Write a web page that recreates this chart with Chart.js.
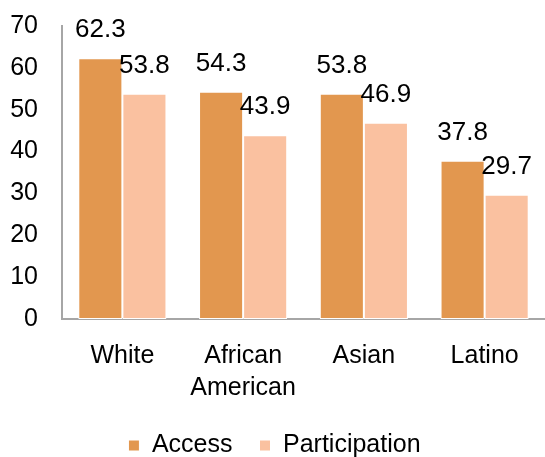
<!DOCTYPE html>
<html>
<head>
<meta charset="utf-8">
<script src="https://cdn.jsdelivr.net/npm/chart.js@4.4.0/dist/chart.umd.min.js"></script>
<style>
  body { margin: 0; background: #fff; }
  canvas { display: block; }
</style>
</head>
<body>
<canvas id="chart" width="545" height="457"></canvas>
<script>
const categories = [['White'], ['African', 'American'], ['Asian'], ['Latino']];
const access = [62.3, 54.3, 53.8, 37.8];
const participation = [53.8, 43.9, 46.9, 29.7];
const yTicks = [0, 10, 20, 30, 40, 50, 60, 70];

const FONT = 'Liberation Sans, Arial, sans-serif';

// value labels above every bar
const valueLabels = {
    id: 'valueLabels',
    afterDatasetsDraw(chart) {
        const ctx = chart.ctx;
        ctx.save();
        ctx.font = '26px ' + FONT;
        ctx.fillStyle = '#000';
        ctx.textAlign = 'center';
        ctx.textBaseline = 'alphabetic';
        chart.data.datasets.forEach((ds, i) => {
            chart.getDatasetMeta(i).data.forEach((bar, j) => {
                ctx.fillText(ds.data[j].toFixed(1), bar.x, bar.y - 21);
            });
        });
        ctx.restore();
    }
};

new Chart(document.getElementById('chart').getContext('2d'), {
    type: 'bar',
    data: {
        labels: categories,
        datasets: [{
            label: 'Access',
            data: access,
            backgroundColor: '#E2974F',
            borderColor: '#ffffff',
            borderWidth: 1,
            borderSkipped: false
        }, {
            label: 'Participation',
            data: participation,
            backgroundColor: '#FAC1A0',
            borderColor: '#ffffff',
            borderWidth: 1,
            borderSkipped: false
        }]
    },
    options: {
        responsive: false,
        animation: false,
        devicePixelRatio: 1,
        layout: { padding: { top: 26, right: -4, left: 0, bottom: -11 } },
        datasets: { bar: { categoryPercentage: 0.73, barPercentage: 1.0 } },
        plugins: {
            tooltip: { enabled: false },
            legend: {
                position: 'bottom',
                labels: {
                    boxWidth: 11,
                    boxHeight: 11,
                    padding: 27,
                    color: '#000',
                    font: { family: FONT, size: 25 }
                }
            }
        },
        scales: {
            x: {
                grid: { display: false, drawTicks: false },
                border: { display: true, color: '#a6a6a6', width: 2 },
                ticks: {
                    color: '#000',
                    padding: 21,
                    maxRotation: 0,
                    font: { family: FONT, size: 25, lineHeight: 1.28 }
                },
                afterFit(scale) { scale.height -= 19; }
            },
            y: {
                min: 0,
                max: 70,
                afterBuildTicks(scale) { scale.ticks = yTicks.map(v => ({ value: v })); },
                grid: { display: false, drawTicks: false },
                border: { display: true, color: '#a6a6a6', width: 2 },
                ticks: {
                    color: '#000',
                    padding: 24,
                    font: { family: FONT, size: 25 }
                },
                afterFit(scale) {
                    scale.width = 62;
                    scale.paddingTop = 0;
                    scale.paddingBottom = 0;
                }
            }
        }
    },
    plugins: [valueLabels]
});
</script>
</body>
</html>
